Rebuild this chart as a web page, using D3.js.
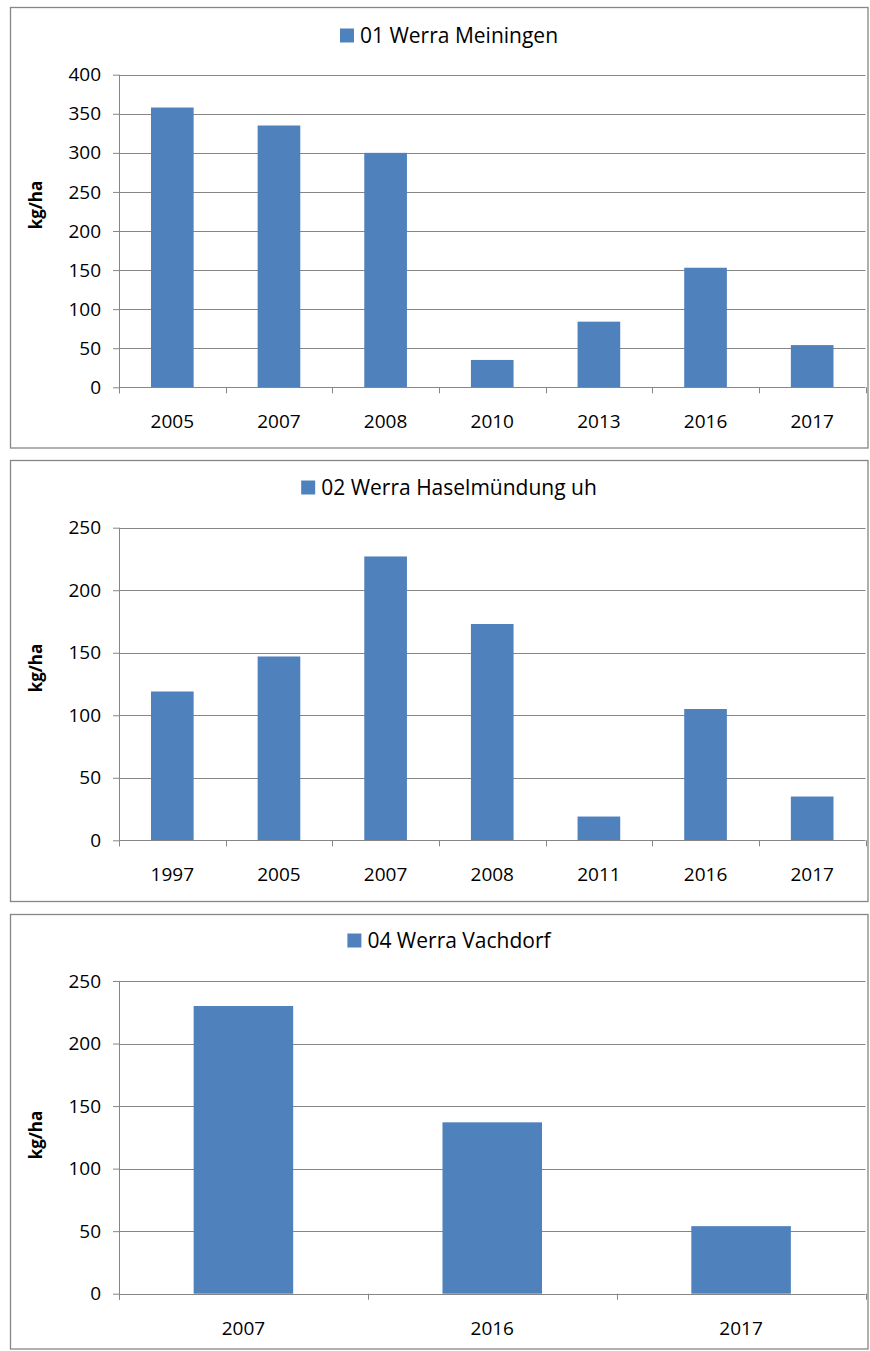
<!DOCTYPE html>
<html>
  <head>
    <meta charset="UTF-8">
    <title>Werra kg/ha</title>
    <script src="https://d3js.org/d3.v7.min.js"></script>
    <style>
      body { margin: 0; background: #fff; }
      text { font-family: "Open Sans", "Noto Sans", sans-serif; fill: #000; }
    </style>
  </head>
  <body>
    <div id="graph"></div>
    <script>

const years1 = ["2005", "2007", "2008", "2010", "2013", "2016", "2017"];
const values1 = [358, 335, 300, 35, 84, 153, 54];
const ticks1 = [0, 50, 100, 150, 200, 250, 300, 350, 400];

const years2 = ["1997", "2005", "2007", "2008", "2011", "2016", "2017"];
const values2 = [119, 147, 227, 173, 19, 105, 35];
const ticks2 = [0, 50, 100, 150, 200, 250];

const years3 = ["2007", "2016", "2017"];
const values3 = [230, 137, 54];
const ticks3 = [0, 50, 100, 150, 200, 250];

const titles = ["01 Werra Meiningen", "02 Werra Haselmündung uh", "04 Werra Vachdorf"];
const yLabel = "kg/ha";

const svgWidth = 870;
const svgHeight = 1351;

const barColor = "#4f81bd";
const lineColor = "#868686";

// panel layout: frame box, plot box, legend centre, y label centre
const panels = [
  {years: years1, values: values1, ticks: ticks1, title: titles[0],
   frame: [10.5, 7.5, 868, 448], plot: [119, 74.7, 865.5, 387.3], legendY: 35.5, labelY: 205},
  {years: years2, values: values2, ticks: ticks2, title: titles[1],
   frame: [10.5, 460.5, 868, 901.5], plot: [119, 527.7, 865.5, 840.3], legendY: 487.5, labelY: 668},
  {years: years3, values: values3, ticks: ticks3, title: titles[2],
   frame: [10.5, 914.5, 868, 1349], plot: [119, 981, 865.5, 1293.7], legendY: 940.5, labelY: 1135}
];

const svg = d3.select("#graph")
  .append("svg")
  .attr("width", svgWidth)
  .attr("height", svgHeight);

panels.forEach(p => {
  const [fx0, fy0, fx1, fy1] = p.frame;
  const [px0, py0, px1, py1] = p.plot;

  svg.append("rect")
    .attr("x", fx0).attr("y", fy0)
    .attr("width", fx1 - fx0).attr("height", fy1 - fy0)
    .attr("fill", "#fff")
    .attr("stroke", lineColor)
    .attr("stroke-width", 1.3);

  const x = d3.scaleBand()
    .domain(p.years)
    .range([px0, px1])
    .paddingInner(0.6)
    .paddingOuter(0.3);

  const y = d3.scaleLinear()
    .domain([0, d3.max(p.ticks)])
    .range([py1, py0]);

  // gridlines
  svg.append("g")
    .selectAll("line")
    .data(p.ticks.filter(t => t > 0))
    .enter()
    .append("line")
    .attr("x1", px0).attr("x2", px1)
    .attr("y1", d => Math.round(y(d)) + 0.5)
    .attr("y2", d => Math.round(y(d)) + 0.5)
    .attr("stroke", lineColor);

  // bars
  svg.append("g")
    .selectAll("rect")
    .data(p.years)
    .enter()
    .append("rect")
    .attr("x", d => x(d))
    .attr("y", (d, i) => y(p.values[i]))
    .attr("width", x.bandwidth())
    .attr("height", (d, i) => y(0) - y(p.values[i]))
    .attr("fill", barColor);

  // y axis
  const yAxis = svg.append("g")
    .attr("transform", "translate(" + px0 + ",0)")
    .call(d3.axisLeft(y).tickValues(p.ticks).tickSize(6).tickPadding(12).tickSizeOuter(0));
  yAxis.selectAll("text").style("font-size", "19px");

  // x axis with ticks at band edges
  const step = x.step();
  const edges = d3.range(p.years.length + 1).map(i => px0 + i * step);
  const xg = svg.append("g");
  xg.append("line")
    .attr("x1", px0).attr("x2", px1)
    .attr("y1", Math.round(y(0)) + 0.5).attr("y2", Math.round(y(0)) + 0.5)
    .attr("stroke", lineColor);
  xg.selectAll(".edge")
    .data(edges)
    .enter()
    .append("line")
    .attr("x1", d => Math.round(d) + 0.5).attr("x2", d => Math.round(d) + 0.5)
    .attr("y1", y(0)).attr("y2", y(0) + 6)
    .attr("stroke", lineColor);
  xg.selectAll("text")
    .data(p.years)
    .enter()
    .append("text")
    .attr("x", d => x(d) + x.bandwidth() / 2)
    .attr("y", y(0) + 41)
    .attr("text-anchor", "middle")
    .style("font-size", "19px")
    .text(d => d);

  yAxis.selectAll("path").remove();
  yAxis.selectAll("line").attr("stroke", lineColor);
  yAxis.append("line")
    .attr("x1", 0.5).attr("x2", 0.5)
    .attr("y1", py0).attr("y2", y(0) + 6)
    .attr("stroke", lineColor);

  // y label
  svg.append("text")
    .attr("transform", "translate(42," + p.labelY + ") rotate(-90)")
    .attr("text-anchor", "middle")
    .style("font-size", "17px")
    .style("font-weight", "bold")
    .text(yLabel);

  // legend
  const lg = svg.append("g");
  const lt = lg.append("text")
    .attr("x", 20)
    .attr("y", p.legendY + 7.5)
    .style("font-size", "21px")
    .text(p.title);
  lg.append("rect")
    .attr("x", 0).attr("y", p.legendY - 7)
    .attr("width", 14).attr("height", 14)
    .attr("fill", barColor);
  const w = 20 + lt.node().getComputedTextLength();
  lg.attr("transform", "translate(" + (449 - w / 2) + ",0)");
});

    </script>
  </body>
</html>
